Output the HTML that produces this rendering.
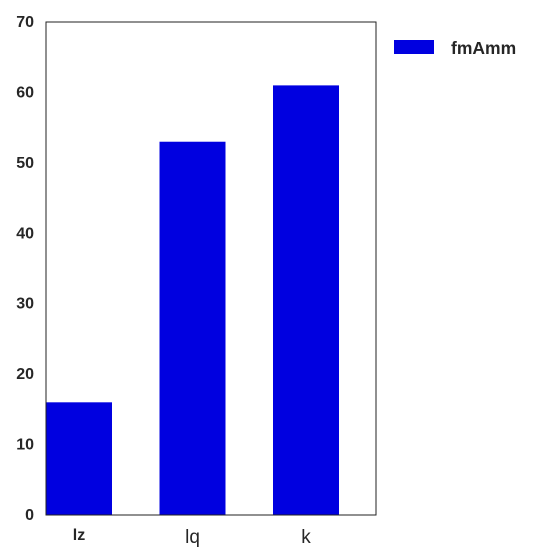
<!DOCTYPE html>
<html><head><meta charset="utf-8"><style>
body{margin:0;background:#fff;}
svg{display:block;font-family:"Liberation Sans",Arial,sans-serif;}
</style></head><body>
<svg id="chart" width="560" height="560"></svg>
<script>
const categories = ["lz","lq","k"];
const values = [16,53,61];
const yTicks = [0,10,20,30,40,50,60,70];
const seriesName = "fmAmm";

const svgEl = document.getElementById('chart');
const NS = 'http://www.w3.org/2000/svg';
const plotLeft = 46, plotRight = 376, plotTop = 22, plotBottom = 515, yMax = 70;
const yScale = v => plotBottom - (v / yMax) * (plotBottom - plotTop);
const step = 113.5, firstCenter = 79, barW = 66;
const xCenter = i => firstCenter + i * step;

function mk(tag, attrs, text){
  const e = document.createElementNS(NS, tag);
  for (const k in attrs) e.setAttribute(k, attrs[k]);
  if (text !== undefined) e.textContent = text;
  svgEl.appendChild(e);
  return e;
}

values.forEach((v, i) => {
  const r = mk('rect', {x: xCenter(i) - barW/2, y: yScale(v), width: barW, height: plotBottom - yScale(v), fill: '#0000e0'});
  
  
});

const frame = mk('rect', {x: plotLeft, y: plotTop, width: plotRight-plotLeft, height: plotBottom-plotTop, fill: 'none', stroke: '#222', 'stroke-width': 1});



yTicks.forEach(t => {
  const e = mk('text', {x: 34, y: yScale(t) + 5, 'text-anchor': 'end', 'font-size': 16, 'font-weight': 'bold', fill: '#262626'}, String(t));
  
  
});

categories.forEach((c, i) => {
  const bold = i === 0;
  const e = mk('text', {x: xCenter(i), y: bold ? 540 : 543, 'text-anchor': 'middle', 'font-size': bold ? 16 : 19, 'font-weight': bold ? 'bold' : 'normal', fill: '#262626'}, c);
  
  
});

const lr = mk('rect', {x: 394, y: 40, width: 40, height: 14, fill: '#0000e0'});


const lt = mk('text', {x: 451, y: 54, 'font-size': 17.5, 'font-weight': 'bold', fill: '#262626'}, seriesName);


</script>
</body></html>
